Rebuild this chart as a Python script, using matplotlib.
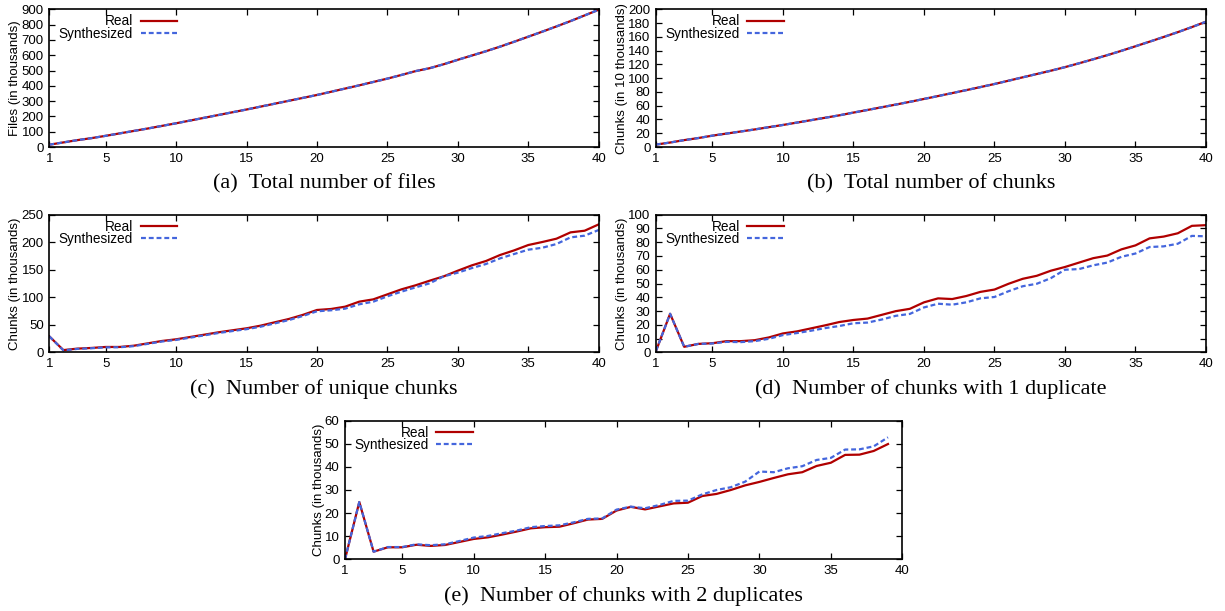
import matplotlib
matplotlib.use("Agg")
import matplotlib.pyplot as plt

plt.rcParams['font.family'] = ['Liberation Sans', 'DejaVu Sans']

days = list(range(1, 41))
days_e = list(range(1, 40))

# (a) files, thousands
files_real = [15, 30, 45, 58, 73, 89, 105, 121, 138, 155, 173, 191, 209, 227, 245, 264, 283, 302, 321, 340,
              361, 382, 403, 425, 447, 471, 496, 515, 541, 570, 598, 626, 656, 688, 721, 754, 788, 823, 860, 897]
files_synth = [15, 30, 45, 58, 73, 89, 105, 121, 138, 155, 173, 191, 209, 227, 245, 264, 283, 302, 321, 340,
               361, 382, 403, 425, 447, 471, 496, 515, 541, 570, 598, 626, 656, 688, 721, 754, 788, 823, 860, 897]

# (b) chunks, 10 thousands
chunks_real = [3.5, 6.5, 10, 13, 16.5, 19.5, 22.5, 25.5, 28.8, 32, 35.5, 39, 42.5, 46, 50, 53.8, 57.7, 61.6, 65.6, 69.8,
               74, 78.3, 82.6, 87, 91.5, 96.3, 101.2, 106, 110.8, 116, 121.6, 127.4, 133.4, 139.7, 146.3, 153, 159.8, 166.8, 174.2, 182]
chunks_synth = [3.5, 6.5, 10, 13, 16.5, 19.5, 22.5, 25.5, 28.8, 32, 35.5, 39, 42.5, 46, 50, 53.8, 57.7, 61.6, 65.6, 69.8,
                74, 78.3, 82.6, 87, 91.5, 96.3, 101.2, 106, 110.8, 116, 121.6, 127.4, 133.4, 139.7, 146.3, 153, 159.8, 166.8, 174.2, 182]

# (c) unique chunks, thousands
uniq_real = [29, 4, 6.7, 7.9, 9.7, 9.7, 12, 16.3, 20.6, 23.6, 27.8, 32, 36.3, 40, 43.6, 48.4, 54.5, 60.5, 68, 76.9,
             78.7, 82.9, 92, 96.2, 105.3, 114.4, 121.7, 130.1, 138, 148.3, 158, 165.9, 176.8, 185.2, 194.9, 200.4, 206.4, 217.9, 220.9, 232.4]
uniq_synth = [29, 3.5, 6.2, 7.4, 9, 9.2, 11.2, 15.4, 19.6, 22.5, 26.6, 30.8, 35, 38.6, 42, 46.5, 52.5, 58.5, 66, 74.5,
              76.3, 79.3, 87.2, 92, 101.7, 110.2, 118, 125.3, 138, 144.7, 153.1, 160.4, 170.7, 178.6, 186.4, 190, 196.7, 208.8, 211.9, 222.2]

# (d) chunks with 1 duplicate, thousands
dup1_real = [1, 28, 4, 6.1, 6.6, 8.1, 8.1, 8.8, 10.8, 13.7, 15.2, 17.4, 19.6, 22, 23.5, 24.5, 27.2, 29.9, 31.6, 36.3,
             39.2, 38.7, 40.9, 43.9, 45.6, 49.8, 53.4, 55.6, 59.3, 62, 65.2, 68.4, 70.3, 74.8, 77.7, 82.8, 84.1, 86.5, 91.9, 92.4]
dup1_synth = [1, 28, 4, 6.1, 6.4, 7.6, 7.4, 8.1, 9.8, 12.5, 14, 15.7, 17.6, 19.1, 21.1, 21.6, 23.8, 26.5, 27.9, 32.6,
              35.3, 34.6, 36.3, 39.2, 40.2, 44.4, 48, 49.8, 53.9, 60, 60.5, 63.2, 65.2, 69.4, 71.8, 76.5, 77, 78.9, 84.6, 84.3]

# (e) chunks with 2 duplicates, thousands
dup2_real = [0, 24.8, 3.3, 5.2, 5.2, 6.3, 5.8, 6.2, 7.5, 8.8, 9.5, 10.7, 12, 13.4, 13.9, 14.1, 15.6, 17.2, 17.5, 21.1,
             22.7, 21.6, 22.9, 24.2, 24.5, 27.4, 28.3, 30, 32, 33.5, 35.2, 36.8, 37.7, 40.4, 41.8, 45.2, 45.3, 46.9, 49.9]
dup2_synth = [0, 24.8, 3.3, 5.3, 5.3, 6.5, 6.1, 6.5, 7.9, 9.4, 10.1, 11.3, 12.4, 13.9, 14.4, 14.7, 16, 17.5, 17.7, 21.5,
              22.8, 22.1, 23.5, 25.3, 25.4, 28.1, 30, 31.2, 33.6, 38, 37.7, 39.4, 40.3, 43, 43.9, 47.5, 47.6, 48.9, 52.8]

xticks = [1, 5, 10, 15, 20, 25, 30, 35, 40]

W, H = 1225, 611
fig = plt.figure(figsize=(W / 100, H / 100), dpi=100)


def panel(l, r, t, b, x, real, synth, ymax, ystep, ylabel, caption):
    ax = fig.add_axes([l / W, 1 - b / H, (r - l) / W, (b - t) / H])
    ax.plot(x, real, color='#b00000', lw=1.6, label='Real')
    ax.plot(x, synth, color='#4466dd', lw=1.6, ls=(0, (2.2, 1.3)), label='Synthesized')
    ax.set_xlim(1, 40)
    ax.set_ylim(0, ymax)
    ax.set_xticks(xticks)
    ax.set_yticks(range(0, ymax + 1, ystep))
    ax.tick_params(direction='in', length=4.5, width=0.9, top=True, right=True, labelsize=9.5, pad=4)
    for s in ax.spines.values():
        s.set_linewidth(1.2)
    ax.set_ylabel(ylabel, fontsize=9.5, labelpad=0)
    wpx, hpx = r - l, b - t
    ax.legend(loc='upper right', bbox_to_anchor=(128 / wpx, 1 - 5 / hpx), frameon=False, markerfirst=False,
              fontsize=9.8, handlelength=2.7, handletextpad=0.55, labelspacing=-0.12, borderpad=0, borderaxespad=0)
    fig.text(((l + r) / 2) / W, 1 - (b + 37) / H, caption, ha='center', va='center',
             fontsize=16, family='Liberation Serif')
    return ax


panel(49.3, 598.7, 9.3, 147, days, files_real, files_synth, 900, 100,
      'Files (in thousands)', '(a)  Total number of files')
panel(656, 1206, 9.3, 147, days, chunks_real, chunks_synth, 200, 20,
      'Chunks (in 10 thousands)', '(b)  Total number of chunks')
panel(49.3, 598.7, 214.7, 352.3, days, uniq_real, uniq_synth, 250, 50,
      'Chunks (in thousands)', '(c)  Number of unique chunks')
panel(656, 1206, 214.7, 352.3, days, dup1_real, dup1_synth, 100, 10,
      'Chunks (in thousands)', '(d)  Number of chunks with 1 duplicate')
panel(345, 902.3, 420.7, 559.3, days_e, dup2_real, dup2_synth, 60, 10,
      'Chunks (in thousands)', '(e)  Number of chunks with 2 duplicates')

fig.savefig('out.png', dpi=100)
